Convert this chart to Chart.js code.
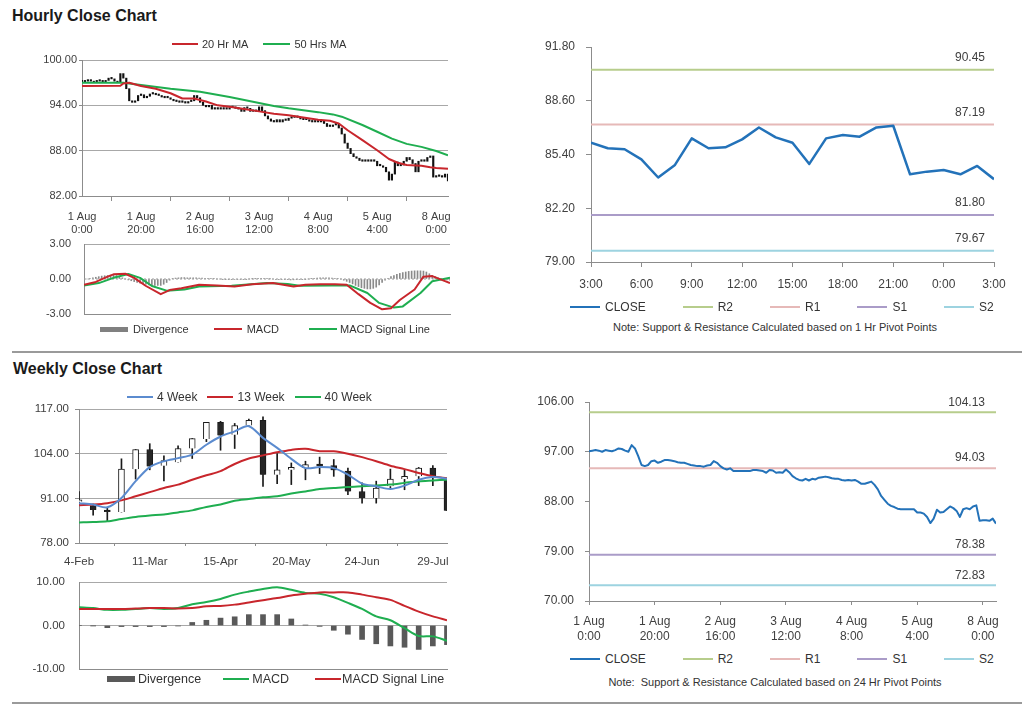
<!DOCTYPE html>
<html>
<head>
<meta charset="utf-8">
<title>Hourly and Weekly Close Charts</title>
<script src="https://cdn.jsdelivr.net/npm/chart.js@4.4.1/dist/chart.umd.min.js"></script>
<style>
  html, body { margin: 0; padding: 0; background: #fff; }
  body { width: 1024px; height: 705px; position: relative; overflow: hidden;
         font-family: 'Liberation Sans', Arial, sans-serif; color: #333; }
  .title { position: absolute; font-weight: bold; font-size: 16px; line-height: 20px; color: #1a1a1a; }
  .rule { position: absolute; left: 12px; width: 1010px; height: 2px; background: #9a9a9a; }
  canvas { position: absolute; }
  .legend { position: absolute; display: flex; align-items: center; white-space: nowrap; line-height: 14px; color: #333; }
  .legend .sw { display: inline-block; }
  .note { position: absolute; left: 560px; width: 430px; text-align: center; font-size: 11px; line-height: 14px; color: #333; }
</style>
</head>
<body>
<div class="title" style="left:12px;top:6px">Hourly Close Chart</div>
<div class="rule" style="top:351px"></div>
<div class="title" style="left:13px;top:359px">Weekly Close Chart</div>
<div class="rule" style="top:702px"></div>
<div class="note" style="top:320px">Note: Support &amp; Resistance Calculated based on 1 Hr Pivot Points</div>
<div class="note" style="top:675px">Note:&nbsp; Support &amp; Resistance Calculated based on 24 Hr Pivot Points</div>

<script>
// ------------------------------------------------------------
//  Data
// ------------------------------------------------------------

// hourly closes, 1 Aug 0:00 .. 8 Aug ~4:00 (125 trading hours)
const hourClose = [
    97.1, 97.2, 97.3, 97.2, 97.0, 97.3, 97.2, 97.1, 97.3, 97.6,
    97.5, 97.2, 97.0, 98.2, 97.6, 96.2, 94.6, 94.4, 94.6, 95.3,
    95.4, 95.0, 95.2, 95.5, 95.5, 95.4, 95.3, 95.1, 95.0, 95.0,
    94.8, 94.6, 94.5, 94.4, 94.4, 94.3, 94.5, 94.6, 95.3, 95.0,
    94.4, 94.0, 93.8, 94.0, 93.5, 93.5, 93.5, 93.5, 93.5, 93.5,
    93.7, 93.7, 93.6, 93.5, 93.2, 93.7, 93.6, 93.2, 93.3, 93.2,
    93.8, 93.3, 92.6, 92.2, 91.9, 91.8, 92.1, 91.8, 92.1, 92.0,
    92.3, 92.4, 92.5, 92.4, 92.2, 92.1, 92.1, 91.9, 91.8, 91.9,
    91.8, 91.9, 91.6, 91.2, 91.2, 91.4, 91.6, 91.0, 90.2, 89.0,
    88.3, 87.6, 87.2, 87.0, 86.7, 86.6, 86.6, 86.6, 86.6, 86.6,
    86.0, 86.0, 85.8, 85.2, 84.1, 84.9, 86.5, 86.0, 86.1, 86.6,
    87.1, 86.8, 86.3, 85.2, 86.6, 86.8, 86.6, 87.1, 87.3, 84.5,
    84.6, 84.6, 84.5, 84.9, 84.0
];
const hourTickIdx = [0, 20, 40, 60, 80, 100, 120];
const hourTickLabels = [
    ['1 Aug', '0:00'], ['1 Aug', '20:00'], ['2 Aug', '16:00'], ['3 Aug', '12:00'],
    ['4 Aug', '8:00'], ['5 Aug', '4:00'], ['8 Aug', '0:00']
];
const hourYTicks = [82, 88, 94, 100];

// moving averages (read at these hour indexes)
const ma20Idx = [0, 13, 14, 16, 20, 25, 30, 34, 38, 42, 46, 50, 56, 60, 65, 70, 75, 80, 84, 87,
                 90, 95, 100, 104, 107, 110, 115, 118, 120, 124];
const ma20Val = [96.55, 96.6, 96.9, 97.0, 96.55, 96.2, 95.6, 94.9, 94.9, 94.5, 94.0, 93.8, 93.45, 93.2, 92.9,
                 92.7, 92.4, 92.1, 91.95, 91.6, 90.7, 89.4, 88.05, 86.9, 86.4, 86.1, 86.0, 85.8, 85.7, 85.6];
const ma50Idx = [0, 14, 16, 20, 30, 40, 50, 60, 65, 70, 80, 85, 88, 95, 100, 105, 110, 115, 120, 124];
const ma50Val = [97.0, 97.0, 96.9, 96.7, 96.2, 95.8, 95.1, 94.3, 93.9, 93.6, 93.1, 92.8, 92.5, 91.4,
                 90.5, 89.6, 88.9, 88.5, 87.96, 87.4];

// hourly MACD panel
const hourDiv = [
    -0.05, 0.0, 0.05, 0.1, 0.15, 0.2, 0.25, 0.28, 0.3, 0.33,
    0.35, 0.3, 0.2, 0.1, 0.0, -0.08, -0.15, -0.22, -0.3, -0.35,
    -0.4, -0.45, -0.5, -0.52, -0.55, -0.55, -0.55, -0.45, -0.3, -0.1,
    0.05, 0.08, 0.1, 0.12, 0.12, 0.1, 0.1, 0.1, 0.1, 0.08,
    0.08, 0.06, 0.05, 0.03, 0.02, 0.0, 0.0, -0.02, -0.02, -0.03,
    -0.03, -0.04, -0.05, -0.04, -0.03, -0.02, 0.0, 0.01, 0.02, 0.03,
    0.03, 0.03, 0.02, 0.01, 0.0, -0.02, -0.03, -0.04, -0.05, -0.06,
    -0.08, -0.07, -0.06, -0.05, -0.03, -0.02, 0.0, 0.03, 0.05, 0.08,
    0.1, 0.1, 0.1, 0.1, 0.08, 0.05, 0.02, 0.0, -0.1, -0.2,
    -0.3, -0.42, -0.55, -0.65, -0.75, -0.8, -0.85, -0.85, -0.8, -0.7,
    -0.5, -0.3, -0.1, 0.05, 0.2, 0.3, 0.4, 0.48, 0.55, 0.6,
    0.65, 0.68, 0.7, 0.7, 0.7, 0.68, 0.6, 0.45, 0.3, 0.2,
    0.1, 0.0, -0.05, -0.08, -0.1
];
const macdHIdx = [0, 4, 8, 10, 14, 17, 21, 26, 29, 33, 39, 45, 51, 57, 64, 71, 75, 80, 85, 89,
                  93, 97, 101, 104, 107, 112, 115, 118, 121, 124];
const macdHVal = [-0.5, -0.25, 0.2, 0.4, 0.45, 0.1, -0.6, -1.3, -0.95, -0.8, -0.5, -0.55, -0.65, -0.45, -0.35,
                  -0.65, -0.5, -0.45, -0.45, -0.5, -1.3, -2.05, -2.6, -2.5, -1.8, -0.9, 0.2, 0.25, -0.05, -0.35];
const sigHIdx = [0, 5, 10, 15, 19, 23, 28, 34, 39, 50, 62, 69, 73, 84, 90, 96, 100, 105, 108, 114, 118, 124];
const sigHVal = [-0.55, -0.35, 0.1, 0.43, 0.1, -0.6, -1.0, -0.9, -0.65, -0.57, -0.35, -0.43, -0.57, -0.55,
                 -0.55, -1.2, -2.05, -2.45, -2.35, -1.2, -0.2, 0.1];
const macdHYTicks = [-3, 0, 3];

// last 24 hours with 1 Hr pivots
const lastDayClose = [86.10, 85.77, 85.71, 85.11, 84.03, 84.78, 86.36, 85.77, 85.83, 86.30, 87.01, 86.42, 86.10,
                      84.84, 86.36, 86.56, 86.46, 87.01, 87.11, 84.22, 84.38, 84.48, 84.22, 84.72, 83.93];
const lastDayTicks = [0, 3, 6, 9, 12, 15, 18, 21, 24];
const lastDayLabels = ['3:00', '6:00', '9:00', '12:00', '15:00', '18:00', '21:00', '0:00', '3:00'];
const lastDayYTicks = [79.0, 82.2, 85.4, 88.6, 91.8];
const pivotNames = ['R2', 'R1', 'S1', 'S2'];
const hourPivots = [90.45, 87.19, 81.80, 79.67];
const dayPivots = [104.13, 94.03, 78.38, 72.83];
const dayYTicks = [70, 79, 88, 97, 106];

// weekly candles, 4-Feb .. 5-Aug
const weekOpen  = [90.0, 88.9, 87.4, 87.0, 99.5, 105.2, 100.5, 101.5, 105.5, 108.3, 113.1, 109.5, 112.2, 113.7,
                   97.9, 99.3, 99.8, 100.7, 100.5, 98.9, 93.0, 91.1, 94.5, 96.6, 97.4, 99.8, 96.6];
const weekHigh  = [93.0, 89.3, 88.3, 102.5, 105.2, 106.9, 103.4, 106.3, 108.4, 113.1, 113.4, 112.8, 114.1, 114.7,
                   104.0, 101.3, 101.8, 103.0, 102.3, 99.8, 95.5, 96.0, 99.5, 99.3, 100.0, 100.5, 97.0];
const weekLow   = [89.2, 86.1, 84.5, 87.0, 96.6, 99.3, 96.1, 101.5, 102.6, 107.5, 105.0, 105.5, 111.9, 94.5,
                   95.3, 95.0, 96.4, 98.2, 97.4, 92.1, 89.6, 89.6, 94.0, 93.5, 94.7, 94.7, 87.4];
const weekClose = [90.6, 87.6, 87.0, 99.5, 105.2, 100.3, 102.0, 105.5, 108.4, 113.1, 109.3, 112.2, 113.7, 97.9,
                   99.3, 100.0, 100.8, 100.4, 99.2, 93.0, 91.1, 94.0, 96.6, 97.4, 99.8, 97.4, 87.4];
const wk4  = [89.6, 89.2, 88.4, 91.1, 96.0, 100.1, 101.8, 102.7, 103.7, 106.6, 109.0, 110.5, 112.0, 108.6,
              105.7, 102.5, 99.8, 100.1, 99.8, 97.9, 95.3, 94.5, 93.7, 94.7, 96.4, 97.2, 96.7];
const wk13 = [89.0, 89.2, 89.6, 90.4, 91.6, 92.8, 94.0, 95.0, 96.4, 97.7, 98.9, 101.0, 102.6, 103.5,
              104.4, 105.1, 105.4, 104.7, 104.7, 104.0, 103.0, 101.8, 100.5, 99.5, 98.4, 97.4, 96.8];
const wk40 = [84.0, 84.1, 84.3, 85.0, 85.6, 86.0, 86.3, 86.9, 87.5, 88.5, 89.2, 90.3, 90.8, 91.3,
              91.6, 92.4, 93.0, 93.7, 94.0, 94.3, 94.5, 94.7, 95.0, 95.5, 96.0, 96.2, 96.4];
const weekTickIdx = [0, 5, 10, 15, 20, 25];
const weekTickLabels = ['4-Feb', '11-Mar', '15-Apr', '20-May', '24-Jun', '29-Jul'];
const weekYTicks = [78, 91, 104, 117];

// weekly MACD panel
const wkMacd   = [4.2, 4.0, 3.6, 3.6, 3.8, 4.0, 3.8, 4.0, 4.9, 5.4, 6.1, 7.1, 7.8, 8.4, 8.8, 8.2, 7.5, 7.3,
                  6.5, 5.2, 3.8, 2.1, 1.2, -0.6, -2.4, -2.5, -3.5];
const wkSignal = [3.8, 3.8, 3.8, 3.8, 3.9, 4.0, 4.0, 3.9, 4.0, 4.4, 4.5, 4.8, 5.3, 5.8, 6.3, 6.9, 7.3, 7.6,
                  7.6, 7.6, 7.1, 6.5, 5.9, 4.5, 3.2, 2.1, 1.2];
const wkDiv    = [0.0, -0.05, -0.5, -0.25, -0.25, -0.25, -0.25, -0.1, 0.7, 1.2, 1.7, 2.0, 2.5, 2.5, 2.5, 1.5,
                  0.1, -0.2, -1.1, -2.0, -3.2, -4.2, -4.7, -5.0, -5.5, -4.7, -4.4];
const wkMacdYTicks = [-10, 0, 10];

// ------------------------------------------------------------
//  Styles
// ------------------------------------------------------------
const FONT = "'Liberation Sans', Arial, sans-serif";
const AXIS = '#8c8c8c';
const GRID = '#a8a8a8';
const TXT = '#404040';
const RED = '#c8262c';
const GREEN = '#1fae50';
const BLUE = '#2372b9';
const STEEL = '#5b8bcf';
const PIVOT_COLORS = ['#b7cd8c', '#e6b9b8', '#aa9cc8', '#9dd3e0'];
const NONE = 'rgba(0,0,0,0)';

// ------------------------------------------------------------
//  Helpers
// ------------------------------------------------------------
// canvas sized so the chart area lands on `area` (page pixels)
function mount(area, box) {
    const c = document.createElement('canvas');
    const w = area.r - area.l + box.yw + box.pr;
    const h = area.b - area.t + box.pt + box.xh + (box.pb || 0);
    c.width = w;
    c.height = h;
    c.style.left = (area.l - box.yw) + 'px';
    c.style.top = (area.t - box.pt) + 'px';
    c.style.width = w + 'px';
    c.style.height = h + 'px';
    document.body.appendChild(c);
    return c;
}

function xScale(o) {
    const s = {
        type: 'linear', min: o.min, max: o.max, offset: false,
        afterBuildTicks: sc => { sc.ticks = o.ticks.map(v => ({ value: v })); },
        afterFit: sc => { sc.height = o.h; },
        border: { display: true, color: AXIS, width: 1 },
    };
    if (o.labels) {
        s.grid = { drawOnChartArea: false, drawTicks: true, tickLength: o.tl, color: AXIS };
        s.ticks = {
            autoSkip: false, maxRotation: 0, padding: o.pad, color: TXT,
            font: { family: FONT, size: o.fs, lineHeight: o.lh || 1.2 },
            callback: v => o.labels[o.ticks.indexOf(v)]
        };
    } else {
        s.grid = { display: false };
        s.ticks = { display: false };
    }
    return s;
}

function yScale(o) {
    const lines = o.gridAt || [];
    return {
        type: 'linear', min: o.min, max: o.max,
        afterBuildTicks: sc => { sc.ticks = o.ticks.map(v => ({ value: v })); },
        afterFit: sc => { sc.width = o.w; },
        border: { display: true, color: AXIS, width: 1 },
        grid: {
            drawOnChartArea: lines.length > 0,
            drawTicks: o.tl > 0,
            tickLength: o.tl || 0,
            tickColor: AXIS,
            color: c => (c.tick && lines.includes(c.tick.value)) ? GRID : NONE
        },
        ticks: {
            padding: o.pad, color: TXT,
            font: { family: FONT, size: o.fs },
            callback: v => v.toFixed(2)
        }
    };
}

function baseOptions(box, x, y, extra) {
    return {
        responsive: false,
        animation: false,
        events: [],
        layout: { padding: { top: box.pt, right: box.pr, bottom: box.pb || 0, left: 0 } },
        plugins: Object.assign({ legend: { display: false }, tooltip: { enabled: false } }, extra || {}),
        scales: { x, y }
    };
}

function lineSet(label, pts, color, width, tension) {
    return {
        type: 'line', label, data: pts, borderColor: color, backgroundColor: color,
        borderWidth: width, pointRadius: 0, tension: tension || 0,
        borderJoinStyle: 'round', fill: false
    };
}

const pairs = (idx, val) => idx.map((x, k) => ({ x, y: val[k] }));
const series = vals => vals.map((y, x) => ({ x, y }));

// value label printed above each pivot line, at its right end
const pivotLabels = {
    id: 'pivotLabels',
    afterDatasetsDraw(chart, args, opts) {
        const { ctx, chartArea, scales } = chart;
        ctx.save();
        ctx.font = opts.size + 'px ' + FONT;
        ctx.fillStyle = TXT;
        ctx.textAlign = 'right';
        ctx.textBaseline = 'middle';
        chart.data.datasets.forEach(d => {
            if (d.pivot === undefined) return;
            const y = scales.y.getPixelForValue(d.pivot);
            ctx.fillText(d.pivot.toFixed(2), chartArea.right - opts.dx, y - opts.dy);
        });
        ctx.restore();
    }
};

function legend(left, cy, size, items) {
    const el = document.createElement('div');
    el.className = 'legend';
    el.style.left = left + 'px';
    el.style.top = (cy - 7) + 'px';
    el.style.fontSize = size + 'px';
    items.forEach(it => {
        const sw = document.createElement('span');
        sw.className = 'sw';
        sw.style.width = it.w + 'px';
        sw.style.height = (it.h || 2) + 'px';
        sw.style.background = it.color;
        sw.style.marginLeft = (it.gap || 0) + 'px';
        const tx = document.createElement('span');
        tx.textContent = it.text;
        tx.style.marginLeft = (it.m || 4) + 'px';
        el.append(sw, tx);
    });
    document.body.appendChild(el);
}

// ------------------------------------------------------------
//  Hourly close with moving averages
// ------------------------------------------------------------
(function hourlyPrice() {
    const area = { l: 82, r: 448, t: 60, b: 196 };
    const box = { yw: 82, pt: 22, pr: 24, xh: 45 };
    const bars = hourClose.map((c, i) => {
        const prev = i ? hourClose[i - 1] : c;
        return { x: i, y: [Math.min(prev, c), Math.max(prev, c)] };
    });
    new Chart(mount(area, box), {
        type: 'line',
        data: {
            datasets: [
                { type: 'bar', label: 'Close', data: bars, backgroundColor: '#111', barThickness: 1.5,
                  minBarLength: 1.5, grouped: false, order: 3 },
                Object.assign(lineSet('50 Hrs MA', pairs(ma50Idx, ma50Val), GREEN, 2), { order: 2 }),
                Object.assign(lineSet('20 Hr MA', pairs(ma20Idx, ma20Val), RED, 2), { order: 1 })
            ]
        },
        options: baseOptions(box,
            xScale({ min: 0, max: 124, ticks: hourTickIdx, labels: hourTickLabels, h: box.xh, tl: 5, pad: 10, fs: 11, lh: 1.15 }),
            yScale({ min: 82, max: 100, ticks: hourYTicks, gridAt: [88, 94, 100], w: box.yw, tl: 3, pad: 2, fs: 11 }))
    });
    legend(172, 44, 11, [
        { text: '20 Hr MA', color: RED, w: 26 },
        { text: '50 Hrs MA', color: GREEN, w: 27, gap: 15 }
    ]);
})();

// ------------------------------------------------------------
//  Hourly MACD
// ------------------------------------------------------------
(function hourlyMacd() {
    const area = { l: 84, r: 450, t: 244, b: 314 };
    const box = { yw: 84, pt: 22, pr: 6, xh: 0, pb: 22 };
    const zero = lineSet('zero', [{ x: 0, y: 0 }, { x: 124, y: 0 }], '#9a9a9a', 1);
    zero.borderDash = [2, 2];
    new Chart(mount(area, box), {
        type: 'line',
        data: {
            datasets: [
                Object.assign(lineSet('MACD', pairs(macdHIdx, macdHVal), RED, 2), { order: 1 }),
                Object.assign(lineSet('MACD Signal Line', pairs(sigHIdx, sigHVal), GREEN, 2), { order: 2 }),
                Object.assign(zero, { order: 3 }),
                { type: 'bar', label: 'Divergence', data: series(hourDiv), backgroundColor: '#8a8a8a',
                  barThickness: 1, grouped: false, order: 4 }
            ]
        },
        options: baseOptions(box,
            xScale({ min: 0, max: 124, ticks: [], h: 0 }),
            yScale({ min: -3, max: 3, ticks: macdHYTicks, gridAt: [3], w: box.yw, tl: 0, pad: 13, fs: 11 }))
    });
    legend(100, 329, 11, [
        { text: 'Divergence', color: '#808080', w: 28, h: 5, m: 5 },
        { text: 'MACD', color: RED, w: 28, gap: 25, m: 5 },
        { text: 'MACD Signal Line', color: GREEN, w: 28, gap: 30, m: 3 }
    ]);
})();

// ------------------------------------------------------------
//  Pivot charts (right column)
// ------------------------------------------------------------
function pivotChart(cfg) {
    const sets = [Object.assign(lineSet('CLOSE', series(cfg.close), BLUE, cfg.cw), { order: 0 })];
    cfg.pivots.forEach((v, k) => {
        const d = lineSet(pivotNames[k], [{ x: cfg.xMin, y: v }, { x: cfg.xMax, y: v }], PIVOT_COLORS[k], 2);
        d.pivot = v;
        d.order = 1;
        sets.push(d);
    });
    new Chart(mount(cfg.area, cfg.box), {
        type: 'line',
        data: { datasets: sets },
        options: baseOptions(cfg.box,
            xScale(Object.assign({ min: cfg.xMin, max: cfg.xMax, h: cfg.box.xh }, cfg.x)),
            yScale(Object.assign({ w: cfg.box.yw }, cfg.y)),
            { pivotLabels: cfg.lab }),
        plugins: [pivotLabels]
    });
    legend(570, cfg.legendY, 12, [
        { text: 'CLOSE', color: BLUE, w: 30, m: 5 },
        { text: 'R2', color: PIVOT_COLORS[0], w: 30, m: 5, gap: 37 },
        { text: 'R1', color: PIVOT_COLORS[1], w: 30, m: 5, gap: 37 },
        { text: 'S1', color: PIVOT_COLORS[2], w: 30, m: 5, gap: 37 },
        { text: 'S2', color: PIVOT_COLORS[3], w: 30, m: 5, gap: 37 }
    ]);
}

pivotChart({
    area: { l: 591, r: 994, t: 47, b: 262 },
    box: { yw: 60, pt: 24, pr: 24, xh: 40 },
    close: lastDayClose, cw: 2.5, pivots: hourPivots, xMin: 0, xMax: 24,
    x: { ticks: lastDayTicks, labels: lastDayLabels, tl: 5, pad: 10, fs: 12 },
    y: { min: 79, max: 91.8, ticks: lastDayYTicks, tl: 5, pad: 11, fs: 12 },
    lab: { size: 12, dx: 9, dy: 12 },
    legendY: 307
});

pivotChart({
    area: { l: 589, r: 996, t: 402, b: 601 },
    box: { yw: 70, pt: 24, pr: 24, xh: 45 },
    close: hourClose, cw: 2, pivots: dayPivots, xMin: 0, xMax: 124,
    x: { ticks: hourTickIdx, labels: hourTickLabels, tl: 4, pad: 9, fs: 12, lh: 1.25 },
    y: { min: 70, max: 106, ticks: dayYTicks, tl: 4, pad: 11, fs: 12 },
    lab: { size: 12, dx: 11, dy: 10 },
    legendY: 659
});

// ------------------------------------------------------------
//  Weekly candles with moving averages
// ------------------------------------------------------------
(function weeklyPrice() {
    const area = { l: 79, r: 447, t: 409, b: 543 };
    const box = { yw: 79, pt: 22, pr: 14, xh: 28 };
    const wicks = weekLow.map((l, i) => ({ x: i, y: [l, weekHigh[i]] }));
    const bodies = weekOpen.map((o, i) => ({ x: i, y: [Math.min(o, weekClose[i]), Math.max(o, weekClose[i])] }));
    const bodyFill = weekOpen.map((o, i) => weekClose[i] < o ? '#262626' : '#ffffff');
    new Chart(mount(area, box), {
        type: 'line',
        data: {
            datasets: [
                Object.assign(lineSet('4 Week', series(wk4), STEEL, 2, 0.3), { order: 1 }),
                Object.assign(lineSet('13 Week', series(wk13), RED, 2, 0.3), { order: 2 }),
                Object.assign(lineSet('40 Week', series(wk40), GREEN, 2, 0.3), { order: 3 }),
                { type: 'bar', label: 'body', data: bodies, backgroundColor: bodyFill, borderColor: '#1a1a1a',
                  borderWidth: 1, barThickness: 6, minBarLength: 2, grouped: false, order: 4 },
                { type: 'bar', label: 'wick', data: wicks, backgroundColor: '#1a1a1a',
                  barThickness: 1, grouped: false, order: 5 }
            ]
        },
        options: baseOptions(box,
            xScale({ min: 0, max: 26, ticks: weekTickIdx, labels: weekTickLabels, h: box.xh, tl: 3, pad: 9, fs: 11.5 }),
            yScale({ min: 78, max: 117, ticks: weekYTicks, gridAt: [91, 104, 117], w: box.yw, tl: 4, pad: 6, fs: 11.5 }))
    });
    legend(127, 397, 12, [
        { text: '4 Week', color: STEEL, w: 26 },
        { text: '13 Week', color: RED, w: 26, gap: 10 },
        { text: '40 Week', color: GREEN, w: 26, gap: 10 }
    ]);
})();

// ------------------------------------------------------------
//  Weekly MACD
// ------------------------------------------------------------
(function weeklyMacd() {
    const area = { l: 79, r: 447, t: 582, b: 669 };
    const box = { yw: 79, pt: 22, pr: 10, xh: 0, pb: 22 };
    new Chart(mount(area, box), {
        type: 'line',
        data: {
            datasets: [
                Object.assign(lineSet('MACD', series(wkMacd), GREEN, 2, 0.3), { order: 2 }),
                Object.assign(lineSet('MACD Signal Line', series(wkSignal), RED, 2, 0.3), { order: 1 }),
                { type: 'bar', label: 'Divergence', data: series(wkDiv), backgroundColor: '#595959',
                  barThickness: 5, grouped: false, order: 3 }
            ]
        },
        options: baseOptions(box,
            xScale({ min: 0, max: 26, ticks: [], h: 0 }),
            yScale({ min: -10, max: 10, ticks: wkMacdYTicks, gridAt: [0, 10], w: box.yw, tl: 0, pad: 14, fs: 11.5 }))
    });
    legend(107, 679, 12.5, [
        { text: 'Divergence', color: '#595959', w: 28, h: 6, m: 3 },
        { text: 'MACD', color: GREEN, w: 26, gap: 22, m: 3 },
        { text: 'MACD Signal Line', color: RED, w: 26, gap: 26, m: 1 }
    ]);
})();
</script>
</body>
</html>
